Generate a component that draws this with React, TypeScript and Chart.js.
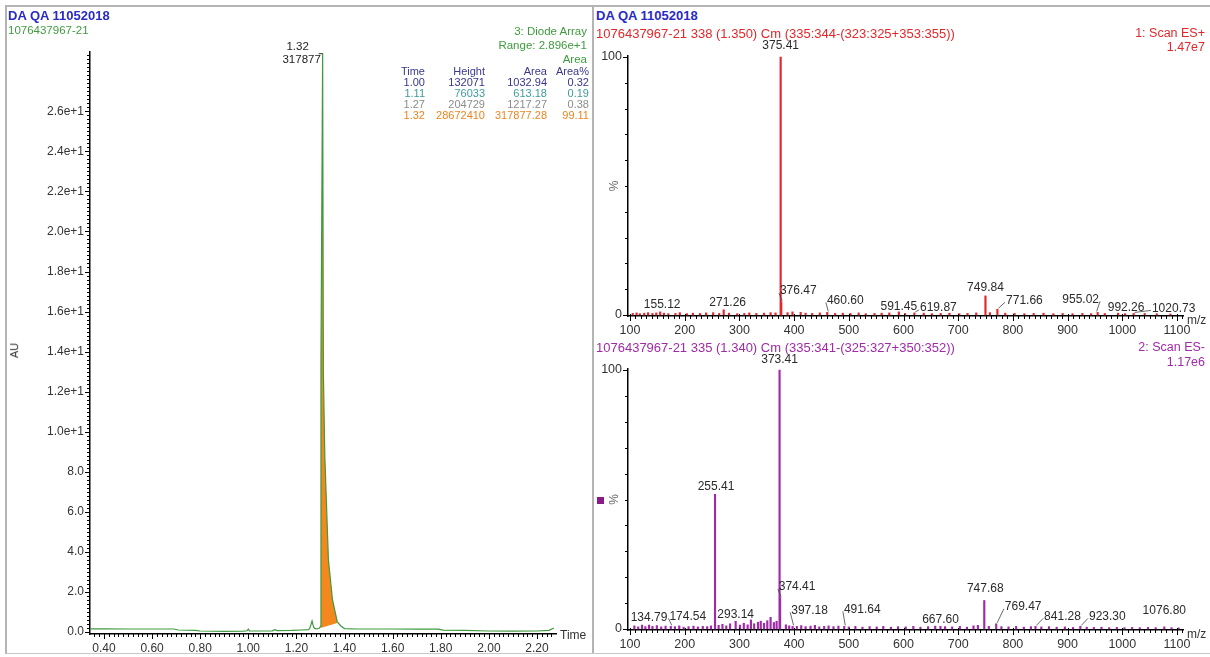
import React, { useEffect, useRef } from 'react';
import { Chart, registerables } from 'chart.js';

Chart.register(...registerables);

const FONT = '"Liberation Sans", Arial, Helvetica, sans-serif';

// ---------------- Chromatogram (Diode Array) ----------------
const CHROM_TIME = [
  0.342, 0.4, 0.5, 0.6, 0.69, 0.71, 0.78, 0.8, 0.9, 0.98, 0.995, 1.0, 1.005, 1.05, 1.1, 1.11, 1.12,
  1.18, 1.22, 1.25, 1.255, 1.26, 1.265, 1.27, 1.275, 1.285, 1.296, 1.3, 1.302, 1.309, 1.312, 1.318,
  1.333, 1.35, 1.37, 1.385, 1.4, 1.45, 1.5, 1.6, 1.7, 1.79, 1.81, 1.9, 2.0, 2.1, 2.2, 2.25, 2.27,
];
const CHROM_AU = [
  0.16, 0.16, 0.15, 0.15, 0.15, 0.1, 0.08, 0.05, 0.03, 0.04, 0.06, 0.15, 0.06, 0.05, 0.06, 0.12, 0.07,
  0.08, 0.1, 0.12, 0.18, 0.35, 0.55, 0.3, 0.18, 0.15, 0.2, 0.28, 13.5, 28.9, 13.0, 8.8,
  3.6, 1.6, 0.5, 0.3, 0.17, 0.15, 0.15, 0.15, 0.14, 0.14, 0.09, 0.08, 0.05, 0.04, 0.05, 0.08, 0.2,
];
const PEAK_START = 1.3;
const PEAK_END = 1.37;
const PEAK_BASE_TIME = [1.3, 1.37];
const PEAK_BASE_AU = [0.2, 0.45];
const APEX_TIME_LABEL = '1.32';
const APEX_AREA_LABEL = '317877';

const TABLE_HEAD = ['Time', 'Height', 'Area', 'Area%'];
const TABLE_TIME = ['1.00', '1.11', '1.27', '1.32'];
const TABLE_HEIGHT = ['132071', '76033', '204729', '28672410'];
const TABLE_AREA = ['1032.94', '613.18', '1217.27', '317877.28'];
const TABLE_PCT = ['0.32', '0.19', '0.38', '99.11'];
const TABLE_COLORS = ['#35358e', '#3e9b9b', '#8c8c8c', '#ee8420'];

// ---------------- MS spectrum ES+ ----------------
const ESP_MZ = [155.12, 271.26, 375.41, 376.47, 460.6, 591.45, 619.87, 749.84, 771.66, 955.02, 992.26, 1020.73];
const ESP_INT = [1.2, 2.0, 100, 5.0, 1.0, 1.2, 0.8, 7.4, 2.2, 1.0, 0.7, 0.6];
const ESP_NOISE_MZ = [
  105, 112, 118, 126, 133, 141, 148, 162, 170, 183, 191, 204, 215, 228, 239, 252, 263, 281, 296, 309,
  318, 331, 345, 357, 366, 388, 397, 412, 421, 433, 447, 475, 489, 503, 518, 531, 547, 560, 574, 603,
  637, 652, 668, 684, 702, 717, 733, 758, 786, 803, 821, 838, 856, 874, 891, 909, 927, 943, 968, 1005,
  1041, 1063, 1088,
];
const ESP_NOISE_INT = [
  0.6, 0.8, 0.5, 0.7, 0.9, 0.6, 0.8, 0.7, 0.5, 0.6, 0.9, 0.5, 0.7, 0.6, 0.8, 0.9, 0.6, 0.7, 0.5, 0.6,
  0.8, 0.6, 0.7, 0.9, 0.8, 0.9, 1.2, 1.0, 0.7, 0.6, 0.8, 0.6, 0.7, 0.6, 0.8, 0.5, 0.6, 0.7, 0.8, 0.6,
  0.7, 0.5, 0.6, 0.7, 0.5, 0.6, 0.8, 0.9, 0.7, 0.6, 0.5, 0.6, 0.7, 0.5, 0.6, 0.5, 0.6, 0.5, 0.6, 0.5,
  0.6, 0.5, 0.4,
];
// label placement style (pixel offsets from bar top, leader line flag)
const ESP_LABEL_DX = [2, 4, 0, 17, 18, 0, 24, 0, 27, -17, 8, 40];
const ESP_LABEL_DY = [-1, -1, -5, -5, -6, 1, 1, -2, -3, -7, 1, 1];
const ESP_LABEL_LEADER = [false, false, false, true, true, false, true, false, true, true, false, true];

// ---------------- MS spectrum ES- ----------------
const ESN_MZ = [134.79, 174.54, 255.41, 293.14, 373.41, 374.41, 397.18, 491.64, 667.6, 747.68, 769.47, 841.28, 923.3, 1076.8];
const ESN_INT = [1.5, 1.0, 52, 3.0, 100, 12, 1.0, 1.0, 1.0, 11, 2.0, 1.0, 1.0, 0.8];
const ESN_NOISE_MZ = [
  108, 115, 122, 128, 141, 149, 157, 165, 182, 190, 198, 207, 216, 224, 233, 241, 248, 262, 269, 276,
  283, 301, 308, 315, 321, 327, 334, 339, 345, 351, 357, 363, 368, 385, 391, 405, 413, 421, 430, 438,
  446, 455, 463, 472, 481, 500, 512, 525, 538, 551, 563, 577, 590, 604, 618, 631, 645, 658, 676, 689,
  703, 716, 728, 736, 756, 779, 792, 806, 820, 833, 852, 866, 880, 895, 910, 935, 948, 962, 976, 990,
  1004, 1018, 1032, 1047, 1061, 1090, 1103,
];
const ESN_NOISE_INT = [
  1.2, 0.8, 1.5, 0.9, 1.0, 1.3, 0.8, 1.1, 0.9, 1.2, 0.7, 0.9, 1.1, 0.8, 1.0, 0.9, 1.2, 1.4, 1.8, 1.2,
  2.0, 1.5, 2.2, 1.6, 3.5, 2.0, 2.6, 3.0, 2.2, 3.2, 4.5, 2.5, 3.0, 1.6, 1.2, 1.0, 1.3, 0.9, 1.1, 1.4,
  0.8, 1.0, 1.2, 0.9, 1.1, 0.8, 1.0, 0.7, 0.9, 0.8, 1.0, 0.7, 0.9, 0.8, 1.0, 0.7, 0.9, 1.1, 0.9, 0.8,
  1.0, 0.7, 1.2, 1.4, 1.0, 0.9, 0.8, 1.0, 0.7, 0.9, 0.8, 0.9, 0.7, 0.8, 0.6, 0.7, 0.6, 0.7, 0.5, 0.6,
  0.5, 0.6, 0.5, 0.6, 0.5, 0.5, 0.4,
];
const ESN_LABEL_DX = [0, 17, 1, 0, 0, 17, 17, 18, 0, 1, 27, 27, 27, 0];
const ESN_LABEL_DY = [-1, -4, -2, -1, -4, -5, -10, -11, -1, -6, -11, -4, -4, -10];
const ESN_LABEL_LEADER = [false, true, false, false, false, true, true, true, false, false, true, true, true, false];

// tick value lists between axis bounds (axis furniture, not data)
function tickValues(min: number, max: number, step: number) {
  const out: { value: number }[] = [];
  for (let k = Math.ceil(min / step - 1e-9); k * step <= max + 1e-9; k++) {
    out.push({ value: Math.round(k * step * 1e6) / 1e6 });
  }
  return out;
}

// ---------------- plugins ----------------
const tickMarks = {
  id: 'tickMarks',
  afterDraw(chart: any, _a: any, opts: any) {
    const ctx = chart.ctx;
    ctx.save();
    ctx.strokeStyle = '#000';
    ctx.lineWidth = 1;
    for (const id of Object.keys(chart.scales)) {
      const s = chart.scales[id];
      const cfg = opts && opts[id];
      if (!cfg) continue;
      s.ticks.forEach((t: any, i: number) => {
        const major = t.label !== '' && t.label != null;
        const p = Math.round(s.getPixelForTick(i)) + 0.5;
        ctx.beginPath();
        if (s.isHorizontal()) {
          ctx.moveTo(p, s.top - (major ? cfg.majUp : cfg.minUp));
          ctx.lineTo(p, s.top + (major ? cfg.major : cfg.minor));
        } else {
          ctx.moveTo(s.right - (major ? cfg.major : cfg.minor), p);
          ctx.lineTo(s.right, p);
        }
        ctx.stroke();
      });
    }
    ctx.restore();
  },
};

const axisUnit = {
  id: 'axisUnit',
  afterDraw(chart: any, _a: any, opts: any) {
    if (!opts || !opts.text) return;
    const { ctx, chartArea } = chart;
    ctx.save();
    ctx.font = `12px ${FONT}`;
    ctx.fillStyle = '#333';
    ctx.textAlign = 'left';
    ctx.textBaseline = 'middle';
    ctx.fillText(opts.text, chartArea.right + 4, chartArea.bottom + opts.dy);
    if (opts.pct) {
      const y = chart.scales.y.getPixelForValue(50);
      ctx.translate(chartArea.left - 13, y);
      ctx.rotate(-Math.PI / 2);
      ctx.textAlign = 'center';
      ctx.fillStyle = '#666';
      ctx.fillText('%', 0, 0);
    }
    ctx.restore();
  },
};

const peakLabels = {
  id: 'peakLabels',
  afterDatasetsDraw(chart: any, _a: any, opts: any) {
    if (!opts || !opts.items) return;
    const { ctx } = chart;
    const x = chart.scales.x;
    const y = chart.scales.y;
    ctx.save();
    ctx.font = `12px ${FONT}`;
    ctx.fillStyle = '#2a2a2a';
    ctx.strokeStyle = '#444';
    ctx.lineWidth = 0.8;
    ctx.textAlign = 'center';
    ctx.textBaseline = 'bottom';
    opts.items.forEach((it: any) => {
      const bx = x.getPixelForValue(it.x);
      const by = y.getPixelForValue(it.y);
      const tx = bx + it.dx;
      const ty = by + it.dy;
      ctx.fillText(it.text, tx, ty);
      if (it.leader) {
        const w = ctx.measureText(it.text).width;
        const lx = it.dx > 0 ? tx - w / 2 - 1 : tx + w / 2 + 1;
        ctx.beginPath();
        ctx.moveTo(bx + (it.dx > 0 ? 1 : -1), by - 1);
        ctx.lineTo(lx, ty - 4);
        ctx.stroke();
      }
    });
    ctx.restore();
  },
};

const apexLabel = {
  id: 'apexLabel',
  afterDatasetsDraw(chart: any) {
    const { ctx } = chart;
    let k = 0;
    CHROM_AU.forEach((v, i) => { if (v > CHROM_AU[k]) k = i; });
    const px = chart.scales.x.getPixelForValue(CHROM_TIME[k]);
    const py = chart.scales.y.getPixelForValue(CHROM_AU[k]);
    ctx.save();
    ctx.font = `11.5px ${FONT}`;
    ctx.fillStyle = '#222';
    ctx.textAlign = 'center';
    ctx.textBaseline = 'alphabetic';
    ctx.fillText(APEX_TIME_LABEL, px - 25, py - 3);
    ctx.fillText(APEX_AREA_LABEL, px - 21, py + 10);
    ctx.strokeStyle = '#333';
    ctx.lineWidth = 1;
    ctx.beginPath();
    ctx.moveTo(px - 4, py + 0.5);
    ctx.lineTo(px, py + 0.5);
    ctx.stroke();
    ctx.restore();
  },
};

// ---------------- configs ----------------
const CH_X = { min: 0.342, max: 2.279, step: 0.02 };
const CH_Y = { min: -0.1, max: 28.96, step: 0.2 };
const MS_X = { min: 96.3, max: 1111, step: 10 };
const MS_Y = { min: -0.4, max: 100.4, step: 10 };

function chromConfig(): any {
  const line = CHROM_TIME.map((t, i) => ({ x: t, y: CHROM_AU[i] }));
  const peak = line.filter((p) => p.x >= PEAK_START && p.x <= PEAK_END);
  const base = PEAK_BASE_TIME.map((t, i) => ({ x: t, y: PEAK_BASE_AU[i] }));
  return {
    type: 'line',
    data: {
      datasets: [
        { data: line, borderColor: '#3f9a3f', borderWidth: 1.2, pointRadius: 0, fill: false, tension: 0 },
        { data: peak, borderColor: 'rgba(0,0,0,0)', borderWidth: 0, backgroundColor: '#f5871f', pointRadius: 0, fill: { target: 2 }, tension: 0 },
        { data: base, borderColor: 'rgba(0,0,0,0)', borderWidth: 0, pointRadius: 0, fill: false },
      ],
    },
    plugins: [tickMarks, axisUnit, apexLabel],
    options: {
      animation: false,
      responsive: false,
      events: [],
      layout: { padding: { left: 0, right: 34, top: 52, bottom: 3 } },
      plugins: {
        legend: { display: false },
        tooltip: { enabled: false },
        tickMarks: {
          x: { major: 5, minor: 3, majUp: 0, minUp: 0 },
          y: { major: 5, minor: 3 },
        },
        axisUnit: { text: 'Time', dy: 2 },
      },
      scales: {
        x: {
          type: 'linear',
          min: CH_X.min,
          max: CH_X.max,
          afterBuildTicks: (s: any) => { s.ticks = tickValues(CH_X.min, CH_X.max, CH_X.step); },
          afterFit: (s: any) => { s.height = 20; },
          grid: { display: false, drawTicks: true, tickLength: 5 },
          border: { display: true, color: '#000', width: 1.5 },
          ticks: {
            autoSkip: false,
            maxRotation: 0,
            padding: 2,
            color: '#333',
            font: { family: FONT, size: 12 },
            callback: (v: any) => {
              const q = Number(v) * 5;
              return Math.abs(q - Math.round(q)) < 1e-6 ? Number(v).toFixed(2) : '';
            },
          },
        },
        y: {
          type: 'linear',
          min: CH_Y.min,
          max: CH_Y.max,
          afterBuildTicks: (s: any) => { s.ticks = tickValues(CH_Y.min, CH_Y.max, CH_Y.step); },
          afterFit: (s: any) => { s.width = 90; },
          grid: { display: false, drawTicks: true, tickLength: 4 },
          border: { display: true, color: '#000', width: 1.5 },
          ticks: {
            autoSkip: false,
            padding: 2,
            color: '#333',
            font: { family: FONT, size: 12 },
            callback: (v: any) => {
              const n = Number(v);
              const q = n / 2;
              if (Math.abs(q - Math.round(q)) > 1e-6 || n < 0 || n > 27) return '';
              if (Math.abs(n) < 1e-9) return '0.0';
              return n < 10 ? n.toFixed(1) : (n / 10).toFixed(1) + 'e+1';
            },
          },
        },
      },
    },
  };
}

function spectrumConfig(
  mz: number[], inten: number[], nmz: number[], nint: number[],
  dx: number[], dy: number[], leader: boolean[], color: string, pad: any,
): any {
  const data = [
    ...nmz.map((m, i) => ({ x: m, y: nint[i] })),
    ...mz.map((m, i) => ({ x: m, y: inten[i] })),
  ];
  const items = mz.map((m, i) => ({
    x: m, y: inten[i], text: m.toFixed(2), dx: dx[i], dy: dy[i], leader: leader[i],
  }));
  return {
    type: 'bar',
    data: {
      datasets: [{ data, backgroundColor: color, borderWidth: 0, barThickness: 1.5 }],
    },
    plugins: [tickMarks, axisUnit, peakLabels],
    options: {
      animation: false,
      responsive: false,
      events: [],
      layout: { padding: pad },
      plugins: {
        legend: { display: false },
        tooltip: { enabled: false },
        tickMarks: {
          x: { major: 5, minor: 3, majUp: 2, minUp: 1 },
          y: { major: 5, minor: 3 },
        },
        axisUnit: { text: 'm/z', dy: 5, pct: true },
        peakLabels: { items },
      },
      scales: {
        x: {
          type: 'linear',
          offset: false,
          min: MS_X.min,
          max: MS_X.max,
          afterBuildTicks: (s: any) => { s.ticks = tickValues(MS_X.min, MS_X.max, MS_X.step); },
          afterFit: (s: any) => { s.height = 20; },
          grid: { display: false, drawTicks: true, tickLength: 5 },
          border: { display: true, color: '#000', width: 1.5 },
          ticks: {
            autoSkip: false,
            maxRotation: 0,
            padding: 2,
            color: '#333',
            font: { family: FONT, size: 12.5 },
            callback: (v: any) => {
              const n = Number(v);
              const q = n / 100;
              return n >= 100 && Math.abs(q - Math.round(q)) < 1e-6 ? String(Math.round(n)) : '';
            },
          },
        },
        y: {
          type: 'linear',
          min: MS_Y.min,
          max: MS_Y.max,
          afterBuildTicks: (s: any) => { s.ticks = tickValues(MS_Y.min, MS_Y.max, MS_Y.step); },
          afterFit: (s: any) => { s.width = 36; },
          grid: { display: false, drawTicks: true, tickLength: 4 },
          border: { display: true, color: '#000', width: 1.5 },
          ticks: {
            autoSkip: false,
            padding: 2,
            color: '#333',
            font: { family: FONT, size: 12.5 },
            callback: (v: any) => {
              const n = Number(v);
              if (Math.abs(n) < 1e-9) return '0';
              if (Math.abs(n - 100) < 1e-9) return '100';
              return '';
            },
          },
        },
      },
    },
  };
}

function ChartBox({ left, top, width, height, make }: { left: number; top: number; width: number; height: number; make: () => any }) {
  const ref = useRef<HTMLCanvasElement>(null);
  useEffect(() => {
    const chart = new Chart(ref.current as HTMLCanvasElement, make());
    return () => chart.destroy();
  }, []);
  return (
    <canvas
      ref={ref}
      width={width}
      height={height}
      style={{ position: 'absolute', left, top, width, height }}
    />
  );
}

type T = { t: string; x: number; y: number; c: string; s?: number; b?: boolean; r?: boolean };

function Txt({ t, x, y, c, s = 12, b = false, r = false }: T) {
  const style: any = {
    position: 'absolute',
    top: y,
    color: c,
    fontSize: s,
    fontWeight: b ? 700 : 400,
    fontFamily: FONT,
    lineHeight: 1,
    whiteSpace: 'nowrap',
  };
  if (r) style.right = 1210 - x; else style.left = x;
  return <div style={style}>{t}</div>;
}

export default function App() {
  const BLUE = '#2a2ac4';
  const GREEN = '#3f9a3f';
  const RED = '#e3272a';
  const PURPLE = '#a02aa8';
  const colRight = [425, 485, 547, 589];
  const rows = [TABLE_TIME, TABLE_HEIGHT, TABLE_AREA, TABLE_PCT];
  return (
    <div style={{ position: 'fixed', left: 0, top: 0, width: 1210, height: 657, background: '#fff', overflow: 'hidden' }}>
      {/* panel frames */}
      <div style={{ position: 'absolute', left: 5, top: 5, width: 585, height: 646, borderTop: '2px solid #b4b4b4', borderLeft: '2px solid #b4b4b4', borderBottom: '1px solid #c8c8c8', borderRight: '2px solid #b4b4b4' }} />
      <div style={{ position: 'absolute', left: 592, top: 5, width: 620, height: 646, borderTop: '2px solid #b4b4b4', borderBottom: '1px solid #c8c8c8' }} />

      <ChartBox left={0} top={0} width={590} height={657} make={chromConfig} />
      <ChartBox
        left={592} top={40} width={618} height={300}
        make={() => spectrumConfig(ESP_MZ, ESP_INT, ESP_NOISE_MZ, ESP_NOISE_INT, ESP_LABEL_DX, ESP_LABEL_DY, ESP_LABEL_LEADER, RED, { left: 0, right: 27, top: 16, bottom: 4 })}
      />
      <ChartBox
        left={592} top={353} width={618} height={300}
        make={() => spectrumConfig(ESN_MZ, ESN_INT, ESN_NOISE_MZ, ESN_NOISE_INT, ESN_LABEL_DX, ESN_LABEL_DY, ESN_LABEL_LEADER, PURPLE, { left: 0, right: 27, top: 16, bottom: 3 })}
      />

      {/* left panel texts */}
      <Txt t="DA QA 11052018" x={8} y={9} c={BLUE} s={13} b />
      <Txt t="1076437967-21" x={8} y={25} c={GREEN} s={11.5} />
      <Txt t="3: Diode Array" x={587} y={26} c={GREEN} s={11.5} r />
      <Txt t="Range: 2.896e+1" x={587} y={40} c={GREEN} s={11.5} r />
      <Txt t="Area" x={587} y={54} c={GREEN} s={11.5} r />
      {TABLE_HEAD.map((h, j) => (
        <Txt key={'h' + j} t={h} x={colRight[j]} y={66} c="#3a3a8a" s={11} r />
      ))}
      {TABLE_TIME.map((_, i) =>
        rows.map((col, j) => (
          <Txt key={'c' + i + '_' + j} t={col[i]} x={colRight[j]} y={77 + i * 11} c={TABLE_COLORS[i]} s={11} r />
        )),
      )}
      <div style={{ position: 'absolute', left: 7, top: 345, transform: 'rotate(-90deg)', transformOrigin: 'center', fontFamily: FONT, fontSize: 11, color: '#333', lineHeight: 1 }}>AU</div>

      {/* right panel texts */}
      <Txt t="DA QA 11052018" x={596} y={9} c={BLUE} s={13} b />
      <Txt t="1076437967-21 338 (1.350) Cm (335:344-(323:325+353:355))" x={596} y={27} c={RED} s={13} />
      <Txt t="1: Scan ES+" x={1205} y={27} c={RED} s={12.5} r />
      <Txt t="1.47e7" x={1205} y={41} c={RED} s={12.5} r />
      <Txt t="1076437967-21 335 (1.340) Cm (335:341-(325:327+350:352))" x={596} y={341} c={PURPLE} s={13} />
      <Txt t="2: Scan ES-" x={1205} y={341} c={PURPLE} s={12.5} r />
      <Txt t="1.17e6" x={1205} y={356} c={PURPLE} s={12.5} r />
      <div style={{ position: 'absolute', left: 597, top: 497, width: 7, height: 7, background: '#8a1a8a' }} />
    </div>
  );
}
